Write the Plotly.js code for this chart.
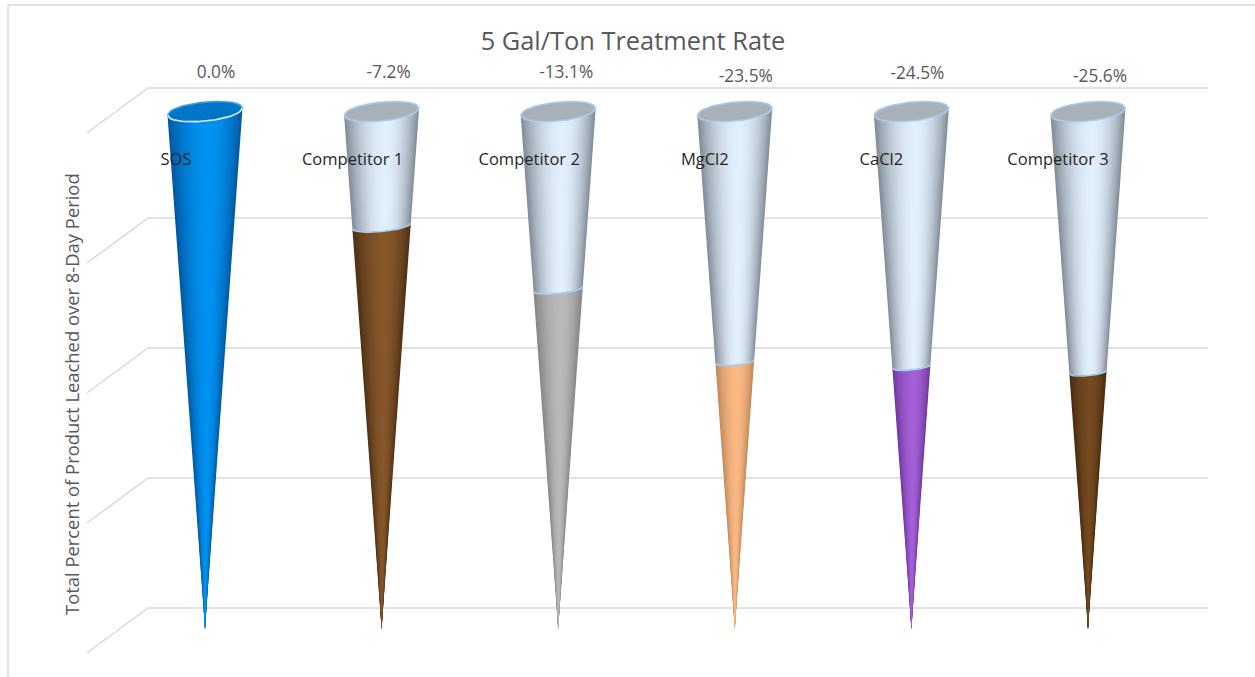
<!DOCTYPE html>
<html><head><meta charset="utf-8">
<script src="https://cdn.plot.ly/plotly-3.0.1.min.js"></script>
<style>html,body{margin:0;padding:0;background:#fff;overflow:hidden}</style>
</head><body><div id="chart" style="width:1255px;height:677px"></div>
<script>
// ---- data ----
const categories = ['SOS','Competitor 1','Competitor 2','MgCl2','CaCl2','Competitor 3'];
const changeLabels = ['0.0%','-7.2%','-13.1%','-23.5%','-24.5%','-25.6%'];
const leachedValues = [99.5, 77.5, 65.4, 51.4, 50.5, 49.4];
const gridValues = [0, 25, 50, 75, 100];
const coneMax = 99.5;

// ---- styling ----
const liquidEdge = ['#00589f','#4e3116','#858585','#c08a5c','#6f389c','#472b12'];
const liquidMid  = ['#0092f2','#86572a','#b9b9b9','#fab883','#a560d8','#764a20'];
const glassEdge = '#828c97', glassMid = '#e2effc';
const lidFill = ['#0076c6','#a9b1b8','#a9b1b8','#a9b1b8','#a9b1b8','#a9b1b8'];
const rimColor = '#a6cdf0', gridColor = '#d9d9d9', textGray = '#595959';

// scale: picture pixels per axis unit; first cone at x=205px, value 0 at y=629px
const PX_X = 176.6, PX_Y = 5.2, X0 = 205, Y0 = 629;
const xFromPx = p => (p - X0) / PX_X, yFromPx = p => (Y0 - p) / PX_Y;
const coneHalf = 37.5 / PX_X;
const lidTilt = 3.6 / PX_Y, lidSag = 9.5 / PX_Y;
const wallLift = 21 / PX_Y, floorDrop = 24 / PX_Y;

const hex = c => [1,3,5].map(i => parseInt(c.substr(i,2),16));
const mix = (a,b,t) => { const A=hex(a),B=hex(b); return 'rgb('+A.map((v,i)=>Math.round(v+(B[i]-v)*t)).join(',')+')'; };

function arc(i, v, uL, uR, sagK) {
  const r = v / coneMax, xs = [], ys = [], n = 26;
  for (let k = 0; k <= n; k++) {
    const u = uL + (uR - uL) * k / n;
    xs.push(i + coneHalf * r * u);
    ys.push(v + r * (lidTilt * u - sagK * lidSag * Math.sqrt(Math.max(0, 1 - u * u))));
  }
  return {xs, ys};
}
const traces = [];
const base = {type:'scatter', mode:'lines', showlegend:false, hoverinfo:'skip'};
const SHADES = [];
for (let k = 20; k >= 1; k--) SHADES.push(k / 20);
const bright = 0.12;
const shadeT = s => Math.pow(1 - s * s * .98, 0.95);

// wall gridlines with their floor-side diagonal
gridValues.forEach(g => traces.push(Object.assign({}, base, {
  x:[xFromPx(87), xFromPx(148), xFromPx(1208)], y:[g - floorDrop, g + wallLift, g + wallLift],
  line:{color:gridColor, width:1.5}
})));

categories.forEach((name, i) => {
  const v = leachedValues[i];
  if (v < coneMax) {
    SHADES.forEach(s => {
      const uL = bright - (1 + bright) * s, uR = bright + (1 - bright) * s;
      const a = arc(i, coneMax, uL, uR, 1), b = arc(i, v, uL, uR, .75);
      traces.push(Object.assign({}, base, {
        x:a.xs.concat(b.xs.slice().reverse()), y:a.ys.concat(b.ys.slice().reverse()),
        fill:'toself', fillcolor:mix(glassEdge, glassMid, shadeT(s)), line:{width:0}
      }));
    });
  }
  SHADES.forEach(s => {
    const uL = bright - (1 + bright) * s, uR = bright + (1 - bright) * s;
    const a = arc(i, v, uL, uR, v < coneMax ? .75 : 1);
    traces.push(Object.assign({}, base, {
      x:[i].concat(a.xs), y:[0].concat(a.ys),
      fill:'toself', fillcolor:mix(liquidEdge[i], liquidMid[i], shadeT(s)), line:{width:0}
    }));
  });
  if (v < coneMax) {
    const a = arc(i, v, -1, 1, .75);
    traces.push(Object.assign({}, base, {x:a.xs, y:a.ys, line:{color:rimColor, width:1.6}}));
  }
  const front = arc(i, coneMax, -1, 1, 1);
  const back = arc(i, coneMax, -1, 1, -1);
  traces.push(Object.assign({}, base, {
    x:front.xs.concat(back.xs.slice().reverse()), y:front.ys.concat(back.ys.slice().reverse()),
    fill:'toself', fillcolor:lidFill[i], line:{color: i === 0 ? '#3c9ee6' : rimColor, width:1.6}
  }));
  if (i === 0) traces.push(Object.assign({}, base, {x:front.xs, y:front.ys, line:{color:'#d6e9f9', width:1.6}}));
});

// category labels, placed across the cones as in the picture
const catNudgePx = [-29,-29,-29,-30,-30,-30];
traces.push({type:'scatter', mode:'text', showlegend:false, hoverinfo:'skip',
  x:categories.map((c,i)=> i + catNudgePx[i]/PX_X),
  y:categories.map(()=> yFromPx(160.5)),
  text:categories, textposition:'middle center',
  textfont:{family:'Open Sans', size:16.5, color:'#262626'}});

// percent labels
const pctNudgeX = [11,7,8,11,6,12], pctY = [74,74,74,78,75,78];
traces.push({type:'scatter', mode:'text', showlegend:false, hoverinfo:'skip',
  x:changeLabels.map((c,i)=> i + pctNudgeX[i]/PX_X),
  y:pctY.map(yFromPx),
  text:changeLabels, textposition:'middle center',
  textfont:{family:'Open Sans', size:17.3, color:textGray}});

const layout = {
  width:1255, height:677, autosize:false,
  margin:{l:0, r:0, t:0, b:0, pad:0},
  paper_bgcolor:'#fff', plot_bgcolor:'#fff',
  title:{text:'5 Gal/Ton Treatment Rate', xref:'container', yref:'container', x:633/1255, y:1-41/677,
    xanchor:'center', yanchor:'middle', font:{family:'Open Sans', size:25.4, color:textGray}},
  xaxis:{range:[xFromPx(0), xFromPx(1255)], showgrid:false, zeroline:false, showticklabels:false, ticks:'', showline:false, fixedrange:true},
  yaxis:{range:[yFromPx(677), yFromPx(0)], showgrid:false, zeroline:false, showticklabels:false, ticks:'', showline:false, fixedrange:true},
  shapes:[
    {type:'line', xref:'x', yref:'y', x0:xFromPx(8), x1:xFromPx(8), y0:yFromPx(5), y1:yFromPx(677), line:{color:gridColor, width:1.5}},
    {type:'line', xref:'x', yref:'y', x0:xFromPx(8), x1:xFromPx(1255), y0:yFromPx(5), y1:yFromPx(5), line:{color:gridColor, width:1.5}}
  ],
  annotations:[{text:'Total Percent of Product Leached over 8-Day Period', xref:'x', yref:'y',
    x:xFromPx(71), y:yFromPx(394), textangle:-90, showarrow:false, xanchor:'center', yanchor:'middle',
    font:{family:'Open Sans', size:18.4, color:textGray}}]
};
Plotly.newPlot('chart', traces, layout, {displayModeBar:false, staticPlot:true});
</script></body></html>
